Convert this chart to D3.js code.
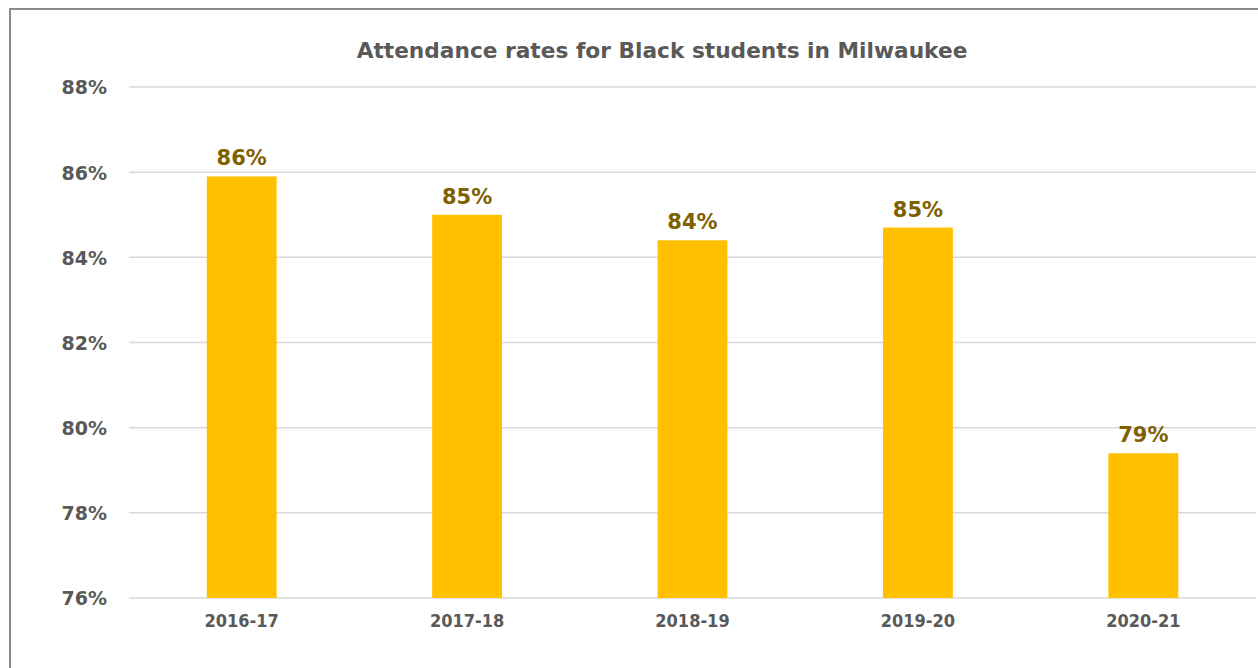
<!DOCTYPE html>
<html>
<head>
<meta charset="utf-8">
<script src="https://cdn.jsdelivr.net/npm/d3@7"></script>
<style>
  body { margin: 0; background: #fff; }
  text { font-family: "DejaVu Sans", sans-serif; font-weight: bold; }
</style>
</head>
<body>
<div id="chart"></div>
<script>
// data
const years = ["2016-17", "2017-18", "2018-19", "2019-20", "2020-21"];
const rates = [85.9, 85.0, 84.4, 84.7, 79.4];
const rateLabels = ["86%", "85%", "84%", "85%", "79%"];
const yTicks = [76, 78, 80, 82, 84, 86, 88];

const width = 1258, height = 668;
const margin = { top: 87, right: 2, bottom: 70, left: 129 };
const fontFam = "'DejaVu Sans', sans-serif";

const svg = d3.select("#chart").append("svg")
  .attr("width", width)
  .attr("height", height);

// outer frame (right and bottom edges fall outside the picture)
svg.append("rect")
  .attr("x", 10).attr("y", 9)
  .attr("width", width + 20).attr("height", height + 20)
  .attr("fill", "none")
  .attr("stroke", "#8c8c8c")
  .attr("stroke-width", 2);

const x = d3.scaleBand()
  .domain(years)
  .range([margin.left, width - margin.right])
  .paddingInner(0.69)
  .paddingOuter(0.345);

const y = d3.scaleLinear()
  .domain([76, 88])
  .range([height - margin.bottom, margin.top]);

// gridlines
svg.append("g")
  .selectAll("line")
  .data(yTicks)
  .join("line")
  .attr("x1", margin.left)
  .attr("x2", width - margin.right)
  .attr("y1", d => y(d))
  .attr("y2", d => y(d))
  .attr("stroke", "#d9d9d9")
  .attr("stroke-width", 1.5);

// y axis labels
const yAxis = svg.append("g")
  .attr("transform", `translate(${margin.left - 22},0)`)
  .call(d3.axisLeft(y).tickValues(yTicks).tickSize(0).tickFormat(d => d + "%"));
yAxis.select(".domain").remove();
yAxis.selectAll("text")
  .attr("x", 0)
  .attr("dy", "0.36em")
  .style("font-size", "19px")
  .style("font-family", fontFam)
  .style("font-weight", "bold")
  .attr("fill", "#595959");

// x axis labels
const xAxis = svg.append("g")
  .attr("transform", `translate(0,${height - margin.bottom})`)
  .call(d3.axisBottom(x).tickSize(0));
xAxis.select(".domain").remove();
xAxis.selectAll("text")
  .attr("y", 16)
  .attr("dy", "0.71em")
  .style("font-size", "18px")
  .style("font-family", "'DejaVu Sans Condensed', 'DejaVu Sans', sans-serif")
  .style("font-weight", "bold")
  .attr("fill", "#595959");

// bars
svg.selectAll(".bar")
  .data(years)
  .join("rect")
  .attr("class", "bar")
  .attr("x", d => x(d))
  .attr("width", x.bandwidth())
  .attr("y", (d, i) => y(rates[i]))
  .attr("height", (d, i) => y(76) - y(rates[i]))
  .attr("fill", "#ffc000");

// value labels
svg.selectAll(".val")
  .data(years)
  .join("text")
  .attr("class", "val")
  .attr("x", d => x(d) + x.bandwidth() / 2)
  .attr("y", (d, i) => y(rates[i]) - 11)
  .attr("text-anchor", "middle")
  .style("font-size", "21px")
  .attr("fill", "#7f6000")
  .text((d, i) => rateLabels[i]);

// title
svg.append("text")
  .attr("x", 662)
  .attr("y", 58)
  .attr("text-anchor", "middle")
  .style("font-size", "21.7px")
  .attr("fill", "#595959")
  .text("Attendance rates for Black students in Milwaukee");
</script>
</body>
</html>
